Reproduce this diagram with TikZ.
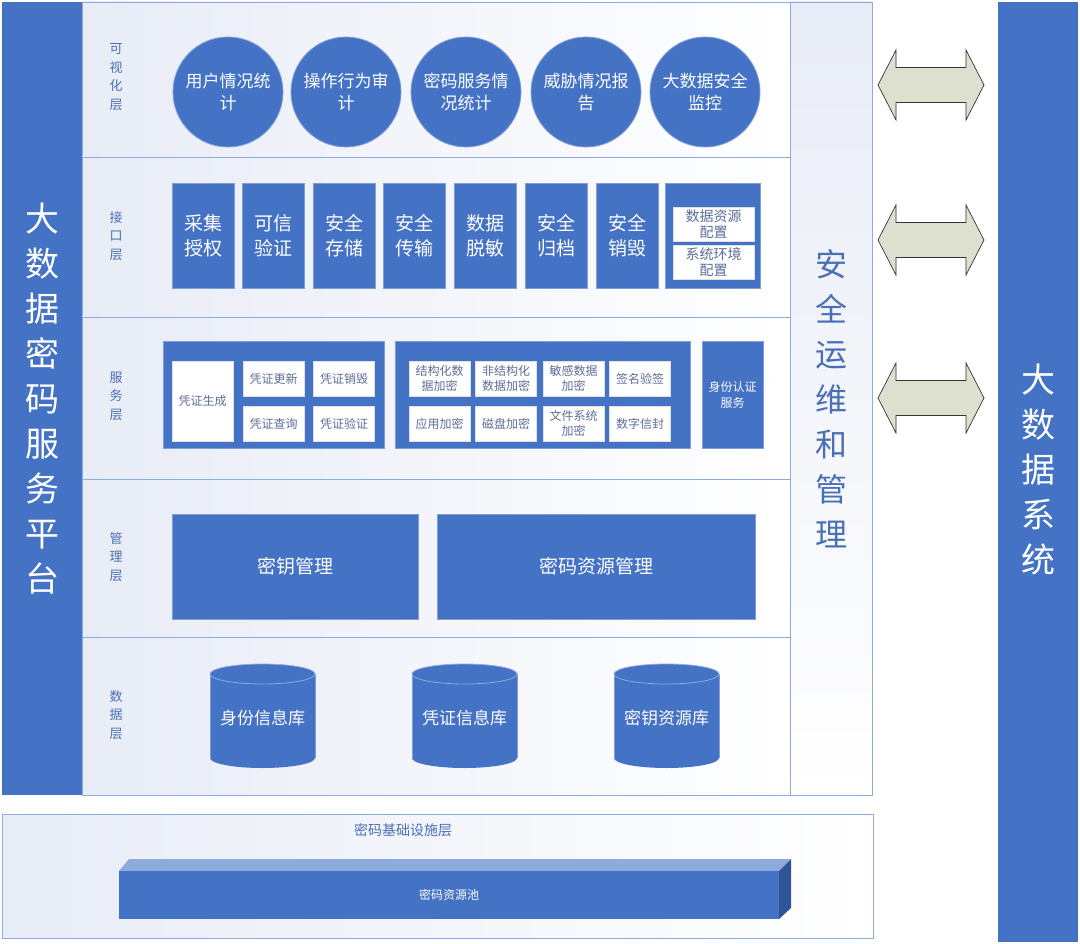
\documentclass[tikz,border=0pt]{standalone}
\usepackage{fontspec}
\setmainfont{Noto Sans CJK SC}
\definecolor{mblue}{HTML}{4472C4}
\definecolor{mblueL}{HTML}{7F9DD6}
\definecolor{lineB}{HTML}{8FAADC}
\definecolor{bgL}{HTML}{E8ECF6}
\definecolor{labB}{HTML}{4A6FB5}
\definecolor{arrF}{HTML}{DDE0CE}
\definecolor{topF}{HTML}{8FAADC}
\definecolor{sideF}{HTML}{2F5597}
\definecolor{grayB}{HTML}{5D6E97}
\tikzset{
  fs/.style={font=\fontsize{#1}{#1*1.25}\selectfont},
  layer/.style={draw=lineB, line width=0.8pt, left color=bgL, right color=white},
  bluebox/.style={fill=mblue, draw=mblueL, line width=0.8pt, text=white, align=center, inner sep=0pt},
  circ/.style={circle, fill=mblue, draw=mblueL, line width=0.8pt, text=white, align=center, minimum size=110pt, inner sep=0pt, font=\fontsize{17}{22}\selectfont},
  ibox/.style={bluebox, minimum width=62pt, minimum height=105pt, font=\fontsize{19}{25}\selectfont},
  wbox/.style={fill=white, draw=black!12, line width=0.6pt, text=grayB, align=center, inner sep=0pt},
  sbox/.style={wbox, minimum width=61pt, minimum height=35pt, font=\fontsize{12}{15}\selectfont},
  lab/.style={text=labB, align=center, font=\fontsize{13}{18.5}\selectfont},
  arr/.style={fill=arrF, draw=black!80, line width=0.7pt, line join=miter},
}
\begin{document}
\begin{tikzpicture}[x=1pt,y=-1pt]
\useasboundingbox (0,0) rectangle (1080,944);
\fill[white] (0,0) rectangle (1080,944);
% left platform bar
\node[bluebox, draw=none, minimum width=80pt, minimum height=793pt, font=\fontsize{34}{45}\selectfont] (plat) at (42,398.5)
  {大\\数\\据\\密\\码\\服\\务\\平\\台};
% layers
\node[layer, minimum width=708pt, minimum height=155pt, inner sep=0pt] (L1) at (436,79.5) {};
\node[layer, minimum width=708pt, minimum height=160pt, inner sep=0pt] (L2) at (436,237) {};
\node[layer, minimum width=708pt, minimum height=162pt, inner sep=0pt] (L3) at (436,398) {};
\node[layer, minimum width=708pt, minimum height=158pt, inner sep=0pt] (L4) at (436,558) {};
\node[layer, minimum width=708pt, minimum height=158pt, inner sep=0pt] (L5) at (436,716) {};
% security column
\node[draw=lineB, line width=0.8pt, top color=bgL, bottom color=white, minimum width=82pt, minimum height=793pt, inner sep=0pt,
  text=labB, align=center, font=\fontsize{32}{45}\selectfont] (sec) at (831,398.5) {安\\全\\运\\维\\和\\管\\理};
% right system bar
\node[bluebox, draw=none, minimum width=80pt, minimum height=940pt, font=\fontsize{34}{45}\selectfont] (sys) at (1038,472) {};
\node[text=white, align=center, font=\fontsize{34}{45}\selectfont] (syst) at (1038,470) {大\\数\\据\\系\\统};
% layer labels
\node[lab] (lab1) at (116,77) {可\\视\\化\\层};
\node[lab] (lab2) at (116,236) {接\\口\\层};
\node[lab] (lab3) at (116,396) {服\\务\\层};
\node[lab] (lab4) at (116,557) {管\\理\\层};
\node[lab] (lab5) at (116,715) {数\\据\\层};
% visualization circles
\node[circ] (c1) at (228,92) {用户情况统\\计};
\node[circ] (c2) at (346,92) {操作行为审\\计};
\node[circ] (c3) at (466,92) {密码服务情\\况统计};
\node[circ] (c4) at (586,92) {威胁情况报\\告};
\node[circ] (c5) at (705,92) {大数据安全\\监控};
% interface boxes
\node[ibox] (i1) at (203,235.5) {采集\\授权};
\node[ibox] (i2) at (273,235.5) {可信\\验证};
\node[ibox] (i3) at (344,235.5) {安全\\存储};
\node[ibox] (i4) at (414,235.5) {安全\\传输};
\node[ibox] (i5) at (485,235.5) {数据\\脱敏};
\node[ibox] (i6) at (556,235.5) {安全\\归档};
\node[ibox] (i7) at (627,235.5) {安全\\销毁};
\node[ibox, minimum width=95pt] (i8) at (712.5,235.5) {};
\node[wbox, minimum width=81pt, minimum height=34pt, font=\fontsize{14}{16}\selectfont] (i8a) at (713.5,224) {数据资源\\配置};
\node[wbox, minimum width=81pt, minimum height=34pt, font=\fontsize{14}{16}\selectfont] (i8b) at (713.5,262) {系统环境\\配置};
% service layer
\node[bluebox, minimum width=221pt, minimum height=107pt] (g1) at (273.5,394.5) {};
\node[wbox, minimum width=61pt, minimum height=80pt, font=\fontsize{12}{15}\selectfont] (s0) at (202.5,401) {凭证生成};
\node[sbox] (s1) at (273.5,378.5) {凭证更新};
\node[sbox] (s2) at (344,378.5) {凭证销毁};
\node[sbox] (s3) at (273.5,423.5) {凭证查询};
\node[sbox] (s4) at (344,423.5) {凭证验证};
\node[bluebox, minimum width=295pt, minimum height=107pt] (g2) at (542.5,394.5) {};
\node[sbox] (t1) at (439.5,378.5) {结构化数\\据加密};
\node[sbox] (t2) at (506,378.5) {非结构化\\数据加密};
\node[sbox] (t3) at (573.5,378.5) {敏感数据\\加密};
\node[sbox] (t4) at (640,378.5) {签名验签};
\node[sbox] (t5) at (439.5,423.5) {应用加密};
\node[sbox] (t6) at (506,423.5) {磁盘加密};
\node[sbox] (t7) at (573.5,423.5) {文件系统\\加密};
\node[sbox] (t8) at (640,423.5) {数字信封};
\node[bluebox, minimum width=61pt, minimum height=107pt, font=\fontsize{12}{16}\selectfont] (auth) at (732.5,394.5) {身份认证\\服务};
% management layer
\node[bluebox, minimum width=246pt, minimum height=105pt, font=\fontsize{19}{24}\selectfont] (m1) at (295,566.5) {密钥管理};
\node[bluebox, minimum width=318pt, minimum height=105pt, font=\fontsize{19}{24}\selectfont] (m2) at (596,566.5) {密码资源管理};
% data layer cylinders
\foreach \cx/\nm/\txt in {262.5/d1/身份信息库, 464.5/d2/凭证信息库, 666.5/d3/密钥资源库}{
  \fill[mblue] (\cx-52.5,674) rectangle (\cx+52.5,758);
  \fill[mblue] (\cx,758) ellipse [x radius=52.5pt, y radius=10pt];
  \draw[mblueL, line width=0.8pt] (\cx-52.5,674) -- (\cx-52.5,758);
  \draw[mblueL, line width=0.8pt] (\cx+52.5,674) -- (\cx+52.5,758);
  \fill[mblue] (\cx,674) ellipse [x radius=52.5pt, y radius=10pt];
  \draw[lineB, line width=0.8pt] (\cx,674) ellipse [x radius=52.5pt, y radius=10pt];
  \node[text=white, font=\fontsize{17}{22}\selectfont] (\nm) at (\cx,718) {\txt};
}
% double arrows
\foreach \ay/\nm in {85/a1, 240/a2, 398/a3}{
  \coordinate (\nm) at (931,\ay);
  \draw[arr, shift={(\nm)}] (-53,0) -- (-35,-35) -- (-35,-17.5) -- (35,-17.5) -- (35,-35) -- (53,0)
     -- (35,35) -- (35,17.5) -- (-35,17.5) -- (-35,35) -- cycle;
}
% infrastructure layer
\node[layer, minimum width=871pt, minimum height=124pt, inner sep=0pt] (infra) at (437.5,876) {};
\node[text=labB, font=\fontsize{14}{18}\selectfont] (infraT) at (403,830) {密码基础设施层};
\fill[topF] (119,871) -- (129,859) -- (791,859) -- (779,871) -- cycle;
\fill[sideF] (779,871) -- (791,859) -- (791,908) -- (779,919) -- cycle;
\node[bluebox, draw=none, minimum width=660pt, minimum height=48pt, font=\fontsize{12}{15}\selectfont] (pool) at (449,895) {密码资源池};
\end{tikzpicture}
\end{document}
